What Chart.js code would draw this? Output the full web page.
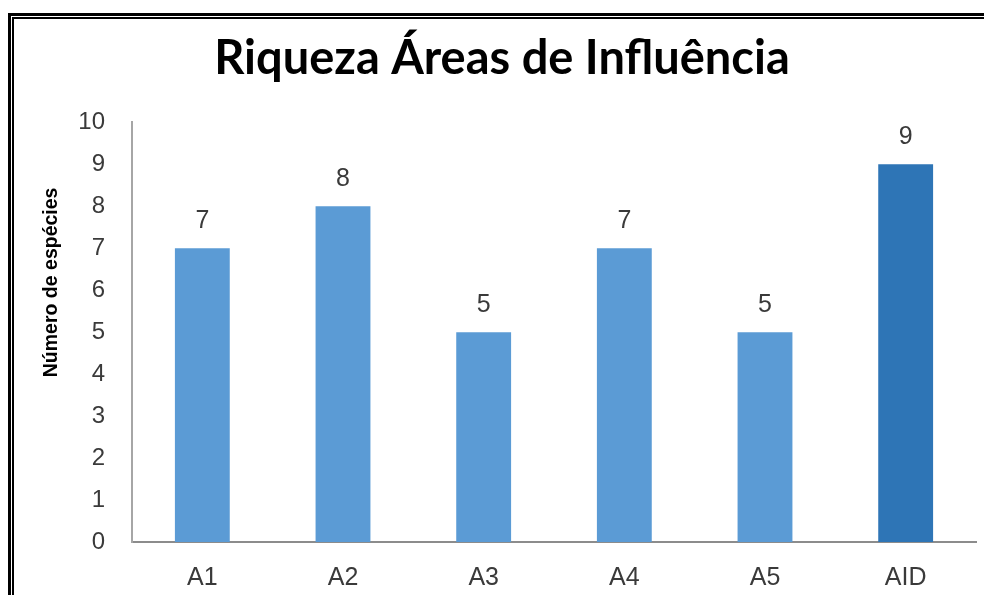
<!DOCTYPE html>
<html>
<head>
<meta charset="utf-8">
<title>Riqueza Áreas de Influência</title>
<script src="https://cdn.jsdelivr.net/npm/chart.js@4.4.1/dist/chart.umd.min.js"></script>
<style>
  html, body { margin: 0; padding: 0; background: #fff; overflow: hidden; }
  #wrap { position: relative; width: 984px; height: 595px; }
  #mycanvas { position: absolute; left: 0; top: 0; }
  /* double frame round the chart, runs off the right and bottom edge */
  .frame { position: absolute; border-style: solid; border-color: #000; pointer-events: none; }
  #outer { left: 8px; top: 13px; width: 1000px; height: 620px; border-width: 3px; }
  #inner { left: 12px; top: 17px; width: 1000px; height: 620px; border-width: 2px; }
</style>
</head>
<body>
<div id="wrap">
  <canvas id="mycanvas" width="984" height="595"></canvas>
  <div class="frame" id="outer"></div>
  <div class="frame" id="inner"></div>
</div>
<script>
var areas = ["A1", "A2", "A3", "A4", "A5", "AID"];
var especies = [7, 8, 5, 7, 5, 9];
var barColors = ["#5b9bd5", "#5b9bd5", "#5b9bd5", "#5b9bd5", "#5b9bd5", "#2e75b6"];
var yTicks = [0, 1, 2, 3, 4, 5, 6, 7, 8, 9, 10];
var yTitle = "Número de espécies";

var tickFont = "'Liberation Sans', Arial, sans-serif";

// writes the value above every bar, and the y axis title (sits above the axis middle)
var valueLabels = {
    id: "valueLabels",
    afterDatasetsDraw: function(chart){
        var ctx = chart.ctx;
        var meta = chart.getDatasetMeta(0);
        ctx.save();
        ctx.font = "25px " + tickFont;
        ctx.fillStyle = "#3a3a3a";
        ctx.textAlign = "center";
        ctx.textBaseline = "middle";
        meta.data.forEach(function(bar, i){
            ctx.fillText(String(chart.data.datasets[0].data[i]), bar.x, bar.y - 27);
        });
        ctx.restore();

        var ys = chart.scales.y;
        ctx.save();
        ctx.translate(ys.left + 24, chart.chartArea.top + 160);
        ctx.rotate(-Math.PI / 2);
        ctx.font = "bold 19.5px " + tickFont;
        ctx.fillStyle = "#000";
        ctx.textAlign = "center";
        ctx.textBaseline = "middle";
        ctx.fillText(yTitle, 0, 0);
        ctx.restore();
    }
};

function drawchart(){
    const canvas = document.getElementById("mycanvas");
    const ctx = canvas.getContext("2d");
    new Chart(ctx, {
        type: "bar",
        data: {
            labels: areas,
            datasets: [{
                data: especies,
                backgroundColor: barColors,
                borderWidth: 0,
                categoryPercentage: 1.0,
                barPercentage: 0.39
            }]
        },
        options: {
            responsive: false,
            animation: false,
            layout: { padding: { left: 28, right: 8, top: 0, bottom: 0 } },
            plugins: {
                legend: { display: false },
                tooltip: { enabled: false },
                title: {
                    display: true,
                    text: "Riqueza Áreas de Influência",
                    color: "#000",
                    font: { family: "Lato, 'Open Sans', sans-serif", size: 47, weight: "bold", lineHeight: 1.2 },
                    padding: { top: 31, bottom: 35 }
                }
            },
            scales: {
                x: {
                    grid: { display: false, drawTicks: false },
                    border: { display: true, color: "#8c8c8c", width: 2 },
                    ticks: {
                        color: "#3a3a3a",
                        padding: 21,
                        font: { family: tickFont, size: 25 }
                    },
                    afterFit: function(scale){ scale.height = 53; }
                },
                y: {
                    min: 0,
                    max: 10,
                    afterBuildTicks: function(scale){
                        scale.ticks = yTicks.map(function(v){ return { value: v }; });
                    },
                    grid: { display: false, drawTicks: false },
                    border: { display: true, color: "#a6a6a6", width: 2 },
                    ticks: {
                        color: "#3a3a3a",
                        padding: 27,
                        font: { family: tickFont, size: 24 }
                    },
                    afterFit: function(scale){ scale.width = 104; }
                }
            }
        },
        plugins: [valueLabels]
    });
}

drawchart();
</script>
</body>
</html>
